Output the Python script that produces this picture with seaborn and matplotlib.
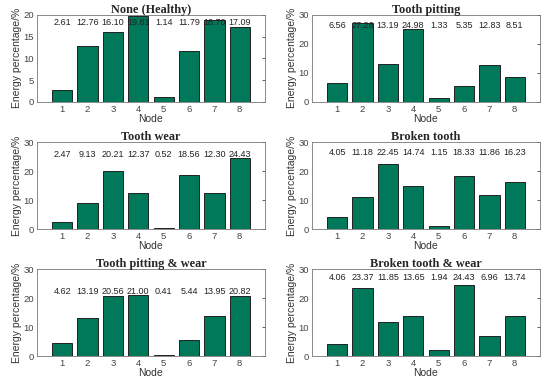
import pandas as pd
import matplotlib.pyplot as plt
import seaborn as sns

nodes = [1, 2, 3, 4, 5, 6, 7, 8]

titles = ["None (Healthy)", "Tooth pitting", "Tooth wear", "Broken tooth",
          "Tooth pitting & wear", "Broken tooth & wear"]

healthy = [2.61, 12.76, 16.10, 19.81, 1.14, 11.79, 18.70, 17.09]
pitting = [6.56, 27.26, 13.19, 24.98, 1.33, 5.35, 12.83, 8.51]
wear = [2.47, 9.13, 20.21, 12.37, 0.52, 18.56, 12.30, 24.43]
broken = [4.05, 11.18, 22.45, 14.74, 1.15, 18.33, 11.86, 16.23]
pitting_wear = [4.62, 13.19, 20.56, 21.00, 0.41, 5.44, 13.95, 20.82]
broken_wear = [4.06, 23.37, 11.85, 13.65, 1.94, 24.43, 6.96, 13.74]

series = [healthy, pitting, wear, broken, pitting_wear, broken_wear]

# axis tops and where the value row sits
y_max = [20, 30, 30, 30, 30, 30]
y_ticks = [[0, 5, 10, 15, 20], [0, 10, 20, 30], [0, 10, 20, 30],
           [0, 10, 20, 30], [0, 10, 20, 30], [0, 10, 20, 30]]
label_y = [18.2, 26.4, 25.9, 26.4, 22.4, 27.0]

bar_color = "#00785a"

sns.set_style("white")
plt.rcParams['font.family'] = ['Liberation Sans', 'DejaVu Sans']

fig = plt.figure(figsize=(5.5, 3.8), dpi=100)

lefts = [0.067, 0.567]
bottoms = [0.732, 0.397, 0.063]
w, h = 0.415, 0.229

for i, vals in enumerate(series):
    ax = fig.add_axes([lefts[i % 2], bottoms[i // 2], w, h])
    df = pd.DataFrame({"Node": nodes, "Energy": vals})
    sns.barplot(data=df, x="Node", y="Energy", native_scale=True,
                color=bar_color, saturation=1, width=0.8,
                edgecolor="#222222", linewidth=0.7, ax=ax)
    ax.set_xlim(0, 9)
    ax.set_ylim(0, y_max[i])
    ax.set_xticks(nodes)
    ax.set_xticklabels([str(n) for n in nodes])
    ax.set_yticks(y_ticks[i])
    ax.tick_params(direction="in", length=2.5, width=0.6, labelsize=6.8,
                   colors="#444444", top=False, right=True, pad=2)
    for s in ax.spines.values():
        s.set_color("#777777")
        s.set_linewidth(0.6)
    ax.set_xlabel("Node", fontsize=7.5, labelpad=0, color="#333333")
    ax.set_ylabel("Energy percentage/%", fontsize=7.5, labelpad=1, color="#333333")
    ax.set_title(titles[i], fontsize=8.8, fontweight="bold",
                 family="Liberation Serif", pad=1.5)
    for n, v in zip(nodes, vals):
        ax.text(n, label_y[i], f"{v:.2f}", ha="center", va="center",
                fontsize=6.5, color="#222222")

fig.savefig("out.png", dpi=100)
